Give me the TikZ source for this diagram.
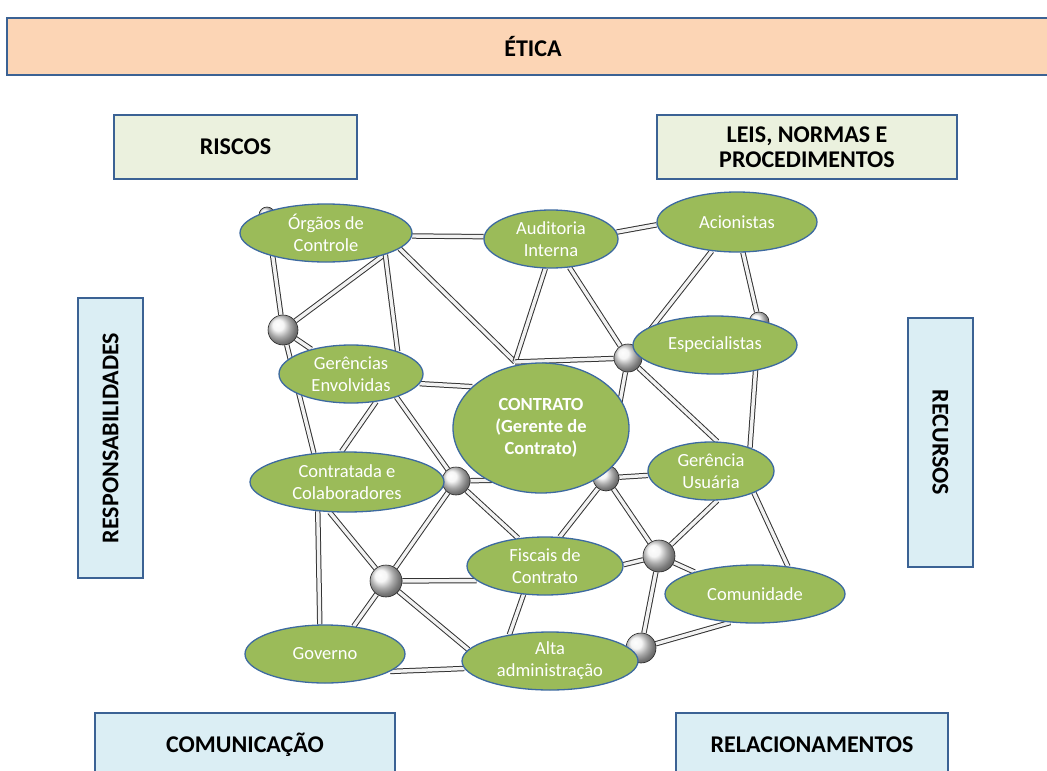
\documentclass[tikz,border=0pt]{standalone}
\usepackage{fontspec}
\setmainfont{Carlito}
\usetikzlibrary{shapes.geometric,backgrounds}
\definecolor{peach}{HTML}{FCD5B5}
\definecolor{olivebg}{HTML}{EBF1DE}
\definecolor{bluebg}{HTML}{DBEEF4}
\definecolor{boxline}{HTML}{3B6294}
\definecolor{leaf}{HTML}{9BBB59}
\definecolor{leafline}{HTML}{3D6AA0}

\begin{document}
\begin{tikzpicture}[x=1pt,y=-1pt,
  theme/.style={draw=boxline, line width=2.6pt, inner sep=0pt, align=center, font=\fontsize{24}{25}\selectfont\bfseries},
  actor/.style={ellipse, draw=leafline, line width=1.3pt, fill=leaf, text=white, inner sep=0pt, align=center, font=\fontsize{18.5}{22}\selectfont},
  ball/.style={circle, draw=black!85, line width=0.6pt, ball color=gray!10, inner sep=0pt},
  rod/.style={draw=black!80, line width=1pt, double=gray!10, double distance=3.4pt}]
  \useasboundingbox (0,0) rectangle (1047,771);
  \clip (0,0) rectangle (1047,771);

  % theme boxes round the network
  \node[theme, fill=peach, minimum width=1052pt, minimum height=57pt] (etica) at (533,46.5) {ÉTICA};
  \node[theme, fill=olivebg, minimum width=243pt, minimum height=64pt] (riscos) at (235.5,147) {RISCOS};
  \node[theme, fill=olivebg, minimum width=300pt, minimum height=64pt] (leis) at (807,147) {LEIS, NORMAS E\\PROCEDIMENTOS};
  \node[theme, fill=bluebg, rotate=90, minimum width=280pt, minimum height=65pt] (resp) at (110.5,438) {RESPONSABILIDADES};
  \node[theme, fill=bluebg, rotate=-90, minimum width=249pt, minimum height=65pt] (recursos) at (940.5,442.5) {RECURSOS};
  \node[theme, fill=bluebg, minimum width=300pt, minimum height=64pt] (comunic) at (245,745) {COMUNICAÇÃO};
  \node[theme, fill=bluebg, minimum width=272pt, minimum height=64pt] (relac) at (812,745) {RELACIONAMENTOS};

  % spheres of the network
  \node[ball, minimum size=16pt] (s0) at (267,215) {};
  \node[ball, minimum size=30pt] (s1) at (283,330) {};
  \node[ball, minimum size=28pt] (s2) at (628,358) {};
  \node[ball, minimum size=28pt] (s3) at (456,481) {};
  \node[ball, minimum size=26pt] (s4) at (606,478) {};
  \node[ball, minimum size=32pt] (s5) at (386,581) {};
  \node[ball, minimum size=32pt] (s6) at (659,556) {};
  \node[ball, minimum size=30pt] (s7) at (641,648) {};
  \node[ball, minimum size=20pt] (s8) at (759,322) {};
  \coordinate (j1) at (515,362);

  % actors
  \node[actor, minimum width=172pt, minimum height=58pt] (og) at (326,233) {Órgãos de\\Controle};
  \node[actor, minimum width=134pt, minimum height=58pt] (ai) at (551,239) {Auditoria\\Interna};
  \node[actor, minimum width=160pt, minimum height=60pt] (ac) at (737,222) {Acionistas};
  \node[actor, minimum width=164pt, minimum height=58pt] (es) at (715,345) {Especialistas};
  \node[actor, minimum width=144pt, minimum height=58pt] (ge) at (351,374) {Gerências\\Envolvidas};
  \node[actor, minimum width=176pt, minimum height=130pt, font=\fontsize{18.5}{22}\selectfont\bfseries] (ct) at (541,428) {CONTRATO\\(Gerente de\\Contrato)};
  \node[actor, minimum width=126pt, minimum height=58pt] (gu) at (711,471) {Gerência\\Usuária};
  \node[actor, minimum width=194pt, minimum height=60pt] (cc) at (347,482) {Contratada e\\Colaboradores};
  \node[actor, minimum width=156pt, minimum height=58pt] (fc) at (545,566) {Fiscais de\\Contrato};
  \node[actor, minimum width=180pt, minimum height=58pt] (cm) at (755,594) {Comunidade};
  \node[actor, minimum width=160pt, minimum height=58pt] (gv) at (325,654) {Governo};
  \node[actor, minimum width=176pt, minimum height=58pt] (aa) at (550,661) {Alta\\administração};

  % rods behind everything
  \begin{pgfonlayer}{background}
    \draw[rod] (og.358) -- (ai.178);
    \draw[rod] (ai.6) -- (ac.182);
    \draw[rod] (s0) -- (s1);
    \draw[rod] (s1) -- (og.339);
    \draw[rod] (s1) -- (ge.148);
    \draw[rod] (s1) -- (cc.139);
    \draw[rod] (og.340) -- (ge.26);
    \draw[rod] (og.348) -- (j1);
    \draw[rod] (ai.259) -- (j1);
    \draw[rod] (ai.303) -- (s2);
    \draw[rod] (ge.352) -- (ct.149);
    \draw[rod] (j1) -- (s2);
    \draw[rod] (ac.229) -- (s2);
    \draw[rod] (ac.281) -- (s8);
    \draw[rod] (s8) -- (gu.31);
    \draw[rod] (s2) -- (s4);
    \draw[rod] (s2) -- (gu.78);
    \draw[rod] (ge.312) -- (cc.100);
    \draw[rod] (ge.333) -- (s3);
    \draw[rod] (s3) -- (s4);
    \draw[rod] (s4) -- (gu.184);
    \draw[rod] (s3) -- (fc.134);
    \draw[rod] (s3) -- (s5);
    \draw[rod] (cc.240) -- (s5);
    \draw[rod] (cc.225) -- (gv.100);
    \draw[rod] (s5) -- (fc.192);
    \draw[rod] (s5) -- (gv.44);
    \draw[rod] (s5) -- (aa.172);
    \draw[rod] (gv.345) -- (aa.185);
    \draw[rod] (fc.233) -- (aa.147);
    \draw[rod] (s4) -- (fc.63);
    \draw[rod] (s4) -- (s6);
    \draw[rod] (gu.282) -- (s6);
    \draw[rod] (gu.333) -- (cm.40);
    \draw[rod] (s6) -- (fc.1);
    \draw[rod] (s6) -- (cm.160);
    \draw[rod] (s6) -- (s7);
    \draw[rod] (s7) -- (cm.229);
  \end{pgfonlayer}
\end{tikzpicture}
\end{document}
